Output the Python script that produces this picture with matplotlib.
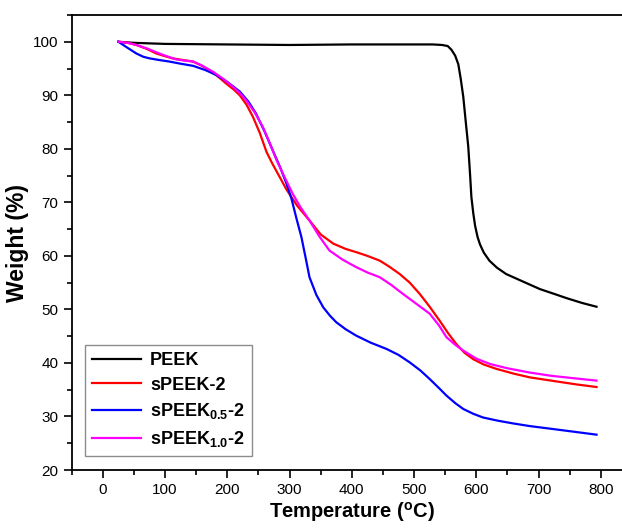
import matplotlib
matplotlib.use('Agg')
import matplotlib.pyplot as plt

# ===== Data ===== #

peek_t = [25, 50, 100, 200, 300, 400, 500, 530, 545, 554, 560, 566, 571, 575,
          579, 583, 587, 590, 592, 595, 598, 602, 606, 612, 621, 633, 648, 675,
          702, 725, 745, 770, 793]
peek_w = [100, 99.8, 99.6, 99.5, 99.4, 99.5, 99.5, 99.5, 99.4, 99.2, 98.5, 97.4,
          95.8, 93.0, 89.7, 85.0, 80.4, 75.0, 71.0, 68.0, 65.6, 63.5, 62.1, 60.6,
          59.1, 57.8, 56.6, 55.2, 53.8, 52.9, 52.1, 51.2, 50.5]

speek_t = [25, 40, 54, 70, 86, 100, 112, 128, 145, 158, 171, 185, 198, 210, 220,
           231, 241, 252, 263, 272, 280, 295, 312, 332, 350, 370, 390, 407, 425,
           445, 460, 477, 493, 509, 525, 541, 555, 568, 581, 595, 612, 632, 660,
           686, 720, 760, 793]
speek_w = [100, 99.8, 99.4, 98.7, 97.8, 97.3, 96.9, 96.6, 96.3, 95.6, 94.7, 93.5,
           92.2, 91.1, 90.0, 88.2, 86.0, 83.0, 79.4, 77.3, 75.6, 72.4, 69.4, 66.6,
           64.0, 62.3, 61.3, 60.7, 60.0, 59.1, 58.0, 56.6, 55.0, 52.9, 50.5, 47.9,
           45.5, 43.5, 41.9, 40.7, 39.7, 38.9, 38.0, 37.3, 36.7, 36.0, 35.5]

speek05_t = [25, 38, 54, 65, 75, 90, 107, 125, 145, 165, 182, 200, 220, 234, 246,
             260, 273, 285, 295, 303, 311, 319, 326, 332, 343, 354, 365, 375, 390,
             407, 430, 456, 475, 493, 510, 525, 540, 552, 566, 579, 595, 611, 635,
             659, 686, 720, 760, 793]
speek05_w = [100, 99.0, 97.8, 97.2, 96.9, 96.6, 96.3, 95.9, 95.5, 94.7, 93.8, 92.5,
             90.7, 88.8, 86.6, 83.2, 79.7, 76.5, 73.5, 70.7, 67.0, 63.5, 59.5, 56.0,
             52.7, 50.4, 48.8, 47.6, 46.3, 45.1, 43.8, 42.6, 41.5, 40.1, 38.6, 37.0,
             35.3, 33.9, 32.5, 31.4, 30.5, 29.8, 29.2, 28.7, 28.2, 27.7, 27.1, 26.6]

speek10_t = [25, 40, 54, 72, 91, 105, 118, 130, 145, 160, 177, 193, 209, 220, 230,
             244, 257, 268, 279, 292, 305, 318, 332, 348, 364, 385, 407, 425, 445,
             463, 482, 503, 525, 540, 552, 566, 579, 600, 622, 650, 686, 720, 760,
             793]
speek10_w = [100, 99.8, 99.4, 98.7, 97.8, 97.2, 96.7, 96.5, 96.3, 95.5, 94.4, 93.1,
             91.6, 90.4, 89.1, 86.8, 84.1, 81.1, 77.9, 74.7, 71.6, 69.0, 66.6, 63.6,
             61.0, 59.3, 57.9, 56.9, 56.0, 54.6, 52.9, 51.1, 49.2, 47.0, 44.8, 43.4,
             42.3, 40.8, 39.8, 39.0, 38.2, 37.6, 37.1, 36.7]

labels = ['PEEK', 'sPEEK-2', r'sPEEK$_{\mathbf{0.5}}$-2', r'sPEEK$_{\mathbf{1.0}}$-2']
colors = ['black', '#ff0000', '#0000ff', '#ff00ff']

# ===== Plot ===== #

plt.rcParams['font.family'] = ['Liberation Sans', 'DejaVu Sans']
plt.rcParams['mathtext.fontset'] = 'custom'
plt.rcParams['mathtext.rm'] = 'Liberation Sans'
plt.rcParams['mathtext.bf'] = 'Liberation Sans:bold'

fig = plt.figure(figsize=(6.22, 5.29), dpi=100)
ax = fig.add_axes([71.7 / 622, 59 / 529, (632 - 71.7) / 622, (470 - 15) / 529])

series = [(peek_t, peek_w), (speek_t, speek_w), (speek05_t, speek05_w), (speek10_t, speek10_w)]
for (t, w), lab, c in zip(series, labels, colors):
    ax.plot(t, w, color=c, lw=1.6, label=lab)

ax.set_xlim(-50, 850)
ax.set_ylim(20, 105)
ax.set_xticks(range(0, 801, 100))
ax.set_xticks(range(-50, 851, 50), minor=True)
ax.set_yticks(range(20, 101, 10))
ax.set_yticks(range(20, 106, 5), minor=True)
ax.tick_params(which='major', direction='out', length=6, width=1.2, labelsize=11)
ax.tick_params(which='minor', direction='out', length=3.5, width=1.2)
ax.tick_params(top=False, right=False)
for s in ax.spines.values():
    s.set_linewidth(1.3)
ax.spines['right'].set_visible(False)

ax.set_xlabel(r'Temperature ($^{\mathbf{o}}$C)', fontsize=14.5, fontweight='bold', labelpad=2)
ax.set_ylabel('Weight (%)', fontsize=16.5, fontweight='bold', labelpad=3)

leg = ax.legend(loc='upper left', bbox_to_anchor=(0.024, 0.275), fancybox=False,
                edgecolor='#707070', handlelength=2.7,
                prop={'weight': 'bold', 'size': 13}, borderaxespad=0,
                labelspacing=0.42, handletextpad=0.5, borderpad=0.4)
leg.get_frame().set_linewidth(1.0)

fig.savefig('out.png', dpi=100)
